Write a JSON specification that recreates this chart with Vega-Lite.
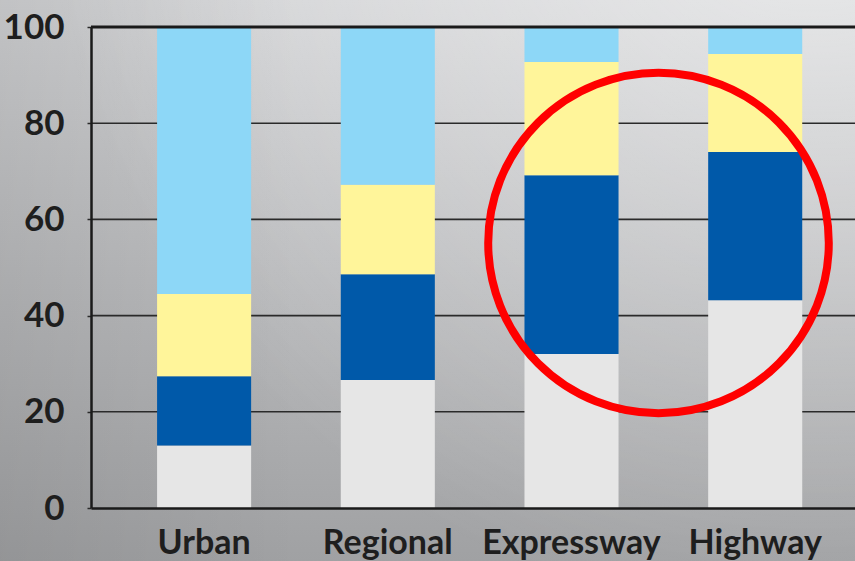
{
  "$schema": "https://vega.github.io/schema/vega-lite/v6.json",
  "width": 764,
  "height": 481,
  "autosize": "none",
  "padding": {"left": 91, "top": 27, "right": 0, "bottom": 53},
  "background": "#b4b4b6",
  "config": {
    "view": {"stroke": null},
    "font": "Lato"
  },
  "datasets": {
    "bars": [
      {"road": "Urban", "seg": "Segment 1", "pct": 13.0},
      {"road": "Urban", "seg": "Segment 2", "pct": 14.4},
      {"road": "Urban", "seg": "Segment 3", "pct": 17.1},
      {"road": "Urban", "seg": "Segment 4", "pct": 55.5},
      {"road": "Regional", "seg": "Segment 1", "pct": 26.6},
      {"road": "Regional", "seg": "Segment 2", "pct": 22.0},
      {"road": "Regional", "seg": "Segment 3", "pct": 18.6},
      {"road": "Regional", "seg": "Segment 4", "pct": 32.8},
      {"road": "Expressway", "seg": "Segment 1", "pct": 32.0},
      {"road": "Expressway", "seg": "Segment 2", "pct": 37.2},
      {"road": "Expressway", "seg": "Segment 3", "pct": 23.5},
      {"road": "Expressway", "seg": "Segment 4", "pct": 7.3},
      {"road": "Highway", "seg": "Segment 1", "pct": 43.2},
      {"road": "Highway", "seg": "Segment 2", "pct": 30.8},
      {"road": "Highway", "seg": "Segment 3", "pct": 20.4},
      {"road": "Highway", "seg": "Segment 4", "pct": 5.6}
    ]
  },
  "layer": [
    {
      "data": {"values": [{}]},
      "mark": {
        "type": "rect", "clip": false,
        "x": -91, "x2": 764, "y": -27, "y2": 534,
        "color": {
          "gradient": "linear", "x1": 0, "y1": 0, "x2": 0, "y2": 1,
          "stops": [
            {"offset": 0, "color": "#d2d3d5"},
            {"offset": 1, "color": "#a0a1a3"}
          ]
        }
      },
      "encoding": {}
    },
    {
      "data": {"values": [{}]},
      "mark": {
        "type": "rect", "clip": false,
        "x": -91, "x2": 764, "y": -27, "y2": 534,
        "color": {
          "gradient": "radial", "x1": 0.95, "y1": 0, "r1": 0, "x2": 0.95, "y2": 0, "r2": 0.9,
          "stops": [
            {"offset": 0, "color": "rgba(255,255,255,0.5)"},
            {"offset": 1, "color": "rgba(255,255,255,0)"}
          ]
        }
      },
      "encoding": {}
    },
    {
      "data": {"values": [{}]},
      "mark": {
        "type": "rect", "clip": false,
        "x": -91, "x2": 764, "y": -27, "y2": 534,
        "color": {
          "gradient": "linear", "x1": 0, "y1": 0, "x2": 0.35, "y2": 0,
          "stops": [
            {"offset": 0, "color": "rgba(0,0,0,0.08)"},
            {"offset": 1, "color": "rgba(0,0,0,0)"}
          ]
        }
      },
      "encoding": {}
    },
    {
      "data": {"values": [{"v": 20}, {"v": 40}, {"v": 60}, {"v": 80}]},
      "mark": {"type": "rule", "color": "#2a2a2a", "strokeWidth": 1.6},
      "encoding": {
        "y": {"field": "v", "type": "quantitative", "scale": {"domain": [0, 100], "nice": false}}
      }
    },
    {
      "data": {"name": "bars"},
      "mark": {"type": "bar"},
      "encoding": {
        "x": {
          "field": "road", "type": "nominal",
          "sort": ["Urban", "Regional", "Expressway", "Highway"],
          "scale": {"domain": ["Urban", "Regional", "Expressway", "Highway"], "paddingInner": 0.488, "paddingOuter": 0.3235, "align": 0.556},
          "axis": {
            "title": null, "labelAngle": 0, "ticks": false, "tickSize": 0,
            "labelFont": "Lato", "labelFontWeight": "bold", "labelFontSize": 34, "labelColor": "#1e1e1e",
            "labelBaseline": "alphabetic", "labelPadding": 45,
            "domainColor": "#1a1a1a", "domainWidth": 2.5, "zindex": 1
          }
        },
        "y": {
          "field": "pct", "type": "quantitative", "stack": "zero",
          "scale": {"domain": [0, 100], "nice": false},
          "axis": {
            "title": null, "grid": false, "values": [0, 20, 40, 60, 80, 100],
            "labelFont": "Lato", "labelFontWeight": "bold", "labelFontSize": 35, "labelColor": "#1e1e1e",
            "labelPadding": 23, "tickSize": 4, "tickColor": "#2a2a2a", "tickWidth": 1.5,
            "domainColor": "#1a1a1a", "domainWidth": 2.5, "zindex": 1
          }
        },
        "color": {
          "field": "seg", "type": "nominal", "legend": null,
          "scale": {
            "domain": ["Segment 1", "Segment 2", "Segment 3", "Segment 4"],
            "range": ["#e6e6e6", "#0059a9", "#fff59a", "#8dd7f7"]
          }
        },
        "order": {"field": "seg", "sort": "ascending"}
      }
    },
    {
      "data": {"values": [{"v": 100}]},
      "mark": {"type": "rule", "color": "#1a1a1a", "strokeWidth": 3},
      "encoding": {
        "y": {"field": "v", "type": "quantitative"}
      }
    },
    {
      "data": {"values": [{"road": "Expressway", "pct": 55.1}]},
      "mark": {"type": "point", "shape": "circle", "filled": false, "stroke": "#ff0000", "strokeWidth": 8, "size": 116000, "xOffset": 87, "opacity": 1, "clip": false},
      "encoding": {
        "x": {"field": "road", "type": "nominal"},
        "y": {"field": "pct", "type": "quantitative"}
      }
    }
  ]
}
